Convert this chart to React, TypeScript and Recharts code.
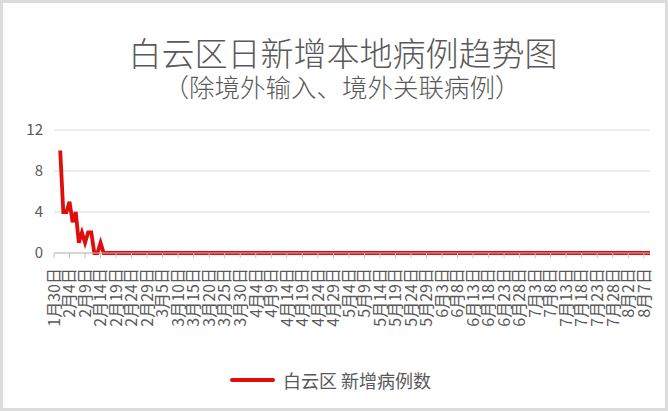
import React from "react";
import { LineChart, Line, XAxis, YAxis, CartesianGrid } from "recharts";

const TITLE = "白云区日新增本地病例趋势图";
const SUBTITLE = "（除境外输入、境外关联病例）";
const SERIES_NAME = "白云区 新增病例数";

// months covered by the category axis: [month, firstDay, lastDay]
const MONTH_SPANS: [number, number, number][] = [
  [1, 30, 31],
  [2, 1, 29],
  [3, 1, 31],
  [4, 1, 30],
  [5, 1, 31],
  [6, 1, 30],
  [7, 1, 31],
  [8, 1, 9],
];

const categories: string[] = [];
MONTH_SPANS.forEach(([m, a, b]) => {
  for (let d = a; d <= b; d++) categories.push(`${m}月${d}日`);
});

// daily new local cases, 1/30 .. 8/9
const cases: (number | null)[] = [
  null, null, 10, 4, 4, 5, 3, 4, 1, 2, 1, 2, 2, 0, 0, 1, 0,
  0, 0, 0, 0, 0, 0, 0, 0, 0, 0, 0, 0, 0, 0, 0, 0,
  0, 0, 0, 0, 0, 0, 0, 0, 0, 0, 0, 0, 0, 0, 0, 0,
  0, 0, 0, 0, 0, 0, 0, 0, 0, 0, 0, 0, 0, 0, 0, 0,
  0, 0, 0, 0, 0, 0, 0, 0, 0, 0, 0, 0, 0, 0, 0, 0,
  0, 0, 0, 0, 0, 0, 0, 0, 0, 0, 0, 0, 0, 0, 0, 0,
  0, 0, 0, 0, 0, 0, 0, 0, 0, 0, 0, 0, 0, 0, 0, 0,
  0, 0, 0, 0, 0, 0, 0, 0, 0, 0, 0, 0, 0, 0, 0, 0,
  0, 0, 0, 0, 0, 0, 0, 0, 0, 0, 0, 0, 0, 0, 0, 0,
  0, 0, 0, 0, 0, 0, 0, 0, 0, 0, 0, 0, 0, 0, 0, 0,
  0, 0, 0, 0, 0, 0, 0, 0, 0, 0, 0, 0, 0, 0, 0, 0,
  0, 0, 0, 0, 0, 0, 0, 0, 0, 0, 0, 0, 0, 0, 0, 0,
];

const yTicks = [0, 4, 8, 12];

const data = categories.map((date, i) => ({ date, cases: cases[i] ?? null }));

const TEXT = "#595959";
const RED = "#e00d0d";
const FONT = "'Noto Sans CJK SC', 'Noto Sans', sans-serif";

const XTick = (props: any) => {
  const { x, y, payload } = props;
  return (
    <text
      x={x}
      y={y}
      transform={`rotate(-90 ${x} ${y})`}
      textAnchor="end"
      dy="0.36em"
      dx={-1}
      fill={TEXT}
      fontSize={16}
      fontFamily={FONT}
    >
      {payload.value}
    </text>
  );
};

export default function App() {
  return (
    <div style={{ position: "relative", width: 668, height: 411, background: "#fff", fontFamily: FONT }}>
      <style>{`body{margin:0}`}</style>
      <LineChart
        width={668}
        height={411}
        data={data}
        margin={{ top: 130, right: 18, bottom: 0, left: 0 }}
        style={{ position: "absolute", left: 0, top: 0 }}
      >
        <CartesianGrid horizontal vertical={false} stroke="#d9d9d9" strokeWidth={1.2} />
        <XAxis
          dataKey="date"
          interval={4}
          height={158}
          stroke="#bfbfbf"
          tickSize={5}
          tickMargin={9}
          tick={<XTick />}
          padding={{ left: 0, right: 0 }}
        />
        <YAxis
          domain={[0, 12]}
          ticks={yTicks}
          width={54}
          axisLine={false}
          tickLine={false}
          tickSize={0}
          tickMargin={11}
          tick={{ fill: TEXT, fontSize: 15, fontFamily: FONT }}
        />
        <Line
          type="linear"
          dataKey="cases"
          name={SERIES_NAME}
          stroke={RED}
          strokeWidth={3.8}
          dot={false}
          activeDot={false}
          isAnimationActive={false}
        />
      </LineChart>
      <div
        style={{
          position: "absolute",
          left: 343 - 250,
          width: 500,
          top: 35,
          textAlign: "center",
          fontSize: 33,
          lineHeight: "34px",
          color: TEXT,
          fontWeight: 300,
        }}
      >
        {TITLE}
      </div>
      <div
        style={{
          position: "absolute",
          left: 342 - 250,
          width: 500,
          top: 72,
          textAlign: "center",
          fontSize: 25.5,
          lineHeight: "28px",
          color: TEXT,
          fontWeight: 300,
        }}
      >
        {SUBTITLE}
      </div>
      <div
        style={{
          position: "absolute",
          left: 230,
          top: 368,
          height: 24,
          display: "flex",
          alignItems: "center",
          color: TEXT,
          fontSize: 18,
        }}
      >
        <span style={{ display: "inline-block", width: 45, height: 4, background: RED, borderRadius: 2, marginRight: 8 }} />
        <span>{SERIES_NAME}</span>
      </div>
      <div
        style={{
          position: "absolute",
          inset: 0,
          border: "3px solid #dcdcdc",
          pointerEvents: "none",
        }}
      />
    </div>
  );
}
